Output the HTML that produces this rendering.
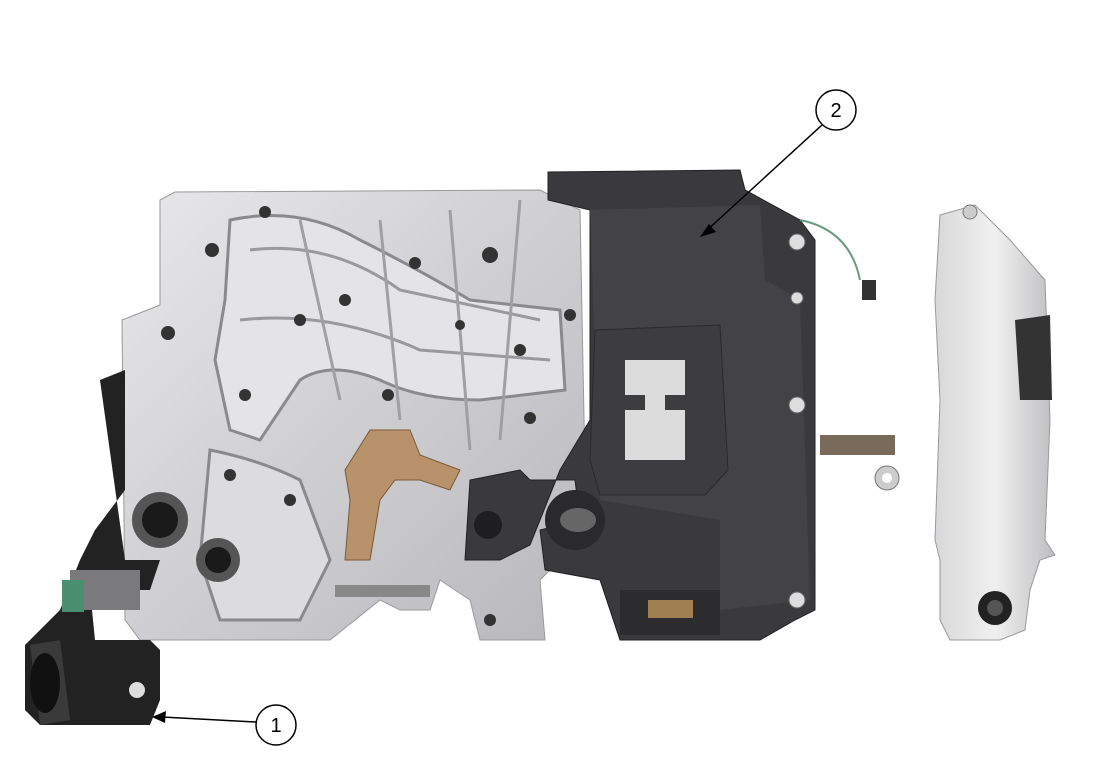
<!DOCTYPE html>
<html><head><meta charset="utf-8"><style>
html,body{margin:0;padding:0;background:#fff;}
svg{display:block;}
</style></head><body>
<svg width="1098" height="767" viewBox="0 0 1098 767" xmlns="http://www.w3.org/2000/svg">
<defs>
<linearGradient id="sil" x1="0" y1="0" x2="1" y2="1">
<stop offset="0" stop-color="#e8e8ea"/><stop offset="0.5" stop-color="#cfcfd2"/><stop offset="1" stop-color="#b8b8bc"/>
</linearGradient>
<linearGradient id="sil2" x1="0" y1="0" x2="1" y2="0">
<stop offset="0" stop-color="#d8d8da"/><stop offset="0.5" stop-color="#f0f0f0"/><stop offset="1" stop-color="#bdbdc0"/>
</linearGradient>
</defs>
<!-- silver valve body -->
<path d="M160 200 L175 192 L540 190 L580 210 L585 470 L560 560 L540 580 L545 640 L480 640 L470 600 L440 580 L430 610 L400 610 L380 600 L330 640 L140 640 L125 620 L122 320 L160 305 Z" fill="url(#sil)" stroke="#999" stroke-width="1"/>
<!-- channels -->
<path d="M230 220 Q300 205 360 240 Q420 270 470 300 L560 310 L565 390 L480 400 Q420 400 380 380 Q330 360 300 380 L260 440 L230 430 L215 360 L225 300 Z" fill="#e4e4e6" stroke="#8a8a8e" stroke-width="3"/>
<path d="M250 250 Q330 240 400 290 L540 320" fill="none" stroke="#9a9a9e" stroke-width="3"/>
<path d="M240 320 Q330 310 420 350 L550 360" fill="none" stroke="#9a9a9e" stroke-width="3"/>
<path d="M300 220 L340 400 M380 220 L400 420 M450 210 L470 450 M520 200 L500 440" stroke="#a0a0a4" stroke-width="3" fill="none"/>
<path d="M210 450 Q260 460 300 480 L330 560 L300 620 L220 620 L200 560 Z" fill="#dcdcde" stroke="#8a8a8e" stroke-width="3"/>
<!-- holes -->
<g fill="#333">
<circle cx="168" cy="333" r="7"/><circle cx="265" cy="212" r="6"/><circle cx="212" cy="250" r="7"/><circle cx="345" cy="300" r="6"/>
<circle cx="415" cy="263" r="6"/><circle cx="490" cy="255" r="8"/><circle cx="460" cy="325" r="5"/><circle cx="570" cy="315" r="6"/>
<circle cx="300" cy="320" r="6"/><circle cx="388" cy="395" r="6"/><circle cx="230" cy="475" r="6"/><circle cx="290" cy="500" r="6"/>
<circle cx="490" cy="620" r="6"/><circle cx="530" cy="418" r="6"/><circle cx="245" cy="395" r="6"/><circle cx="520" cy="350" r="6"/>
</g>
<circle cx="160" cy="520" r="28" fill="#555"/><circle cx="160" cy="520" r="18" fill="#1a1a1a"/>
<circle cx="218" cy="560" r="22" fill="#555"/><circle cx="218" cy="560" r="13" fill="#1a1a1a"/>
<!-- bronze bracket -->
<path d="M370 430 L410 430 L420 455 L460 470 L450 490 L420 480 L395 480 L380 500 L370 560 L345 560 L350 500 L345 470 Z" fill="#b8926a" stroke="#7a5a38"/>
<!-- dark plate -->
<path d="M548 172 L740 170 L745 190 L800 220 L815 240 L815 610 L795 620 L760 640 L620 640 L600 580 L545 570 L540 530 L580 520 L575 480 L530 480 L520 470 L470 480 L465 560 L500 560 L530 545 L560 470 L590 420 L590 210 L548 200 Z" fill="#3a3a3c" stroke="#222"/>
<path d="M590 210 L760 205 L765 280 L800 300 L810 600 L720 610 L720 520 L600 500 Z" fill="#434346"/>
<path d="M595 330 L720 325 L728 470 L705 495 L600 495 L590 460 Z" fill="#3d3d40" stroke="#2a2a2c"/>
<path d="M625 360 L685 360 L685 395 L665 395 L665 410 L685 410 L685 460 L625 460 L625 410 L645 410 L645 395 L625 395 Z" fill="#dcdcdc"/>
<circle cx="575" cy="520" r="30" fill="#2a2a2c"/><ellipse cx="578" cy="520" rx="18" ry="12" fill="#666"/>
<circle cx="488" cy="525" r="14" fill="#1e1e20"/>
<g fill="#ddd" stroke="#666"><circle cx="797" cy="242" r="8"/><circle cx="797" cy="298" r="6"/><circle cx="797" cy="405" r="8"/><circle cx="797" cy="600" r="8"/></g>
<path d="M620 590 L720 590 L720 635 L620 635 Z" fill="#2c2c2e"/>
<rect x="648" y="600" width="45" height="18" fill="#a08050"/>
<!-- connector right -->
<rect x="820" y="435" width="75" height="20" fill="#7a6a5a"/>
<circle cx="887" cy="478" r="12" fill="#ccc" stroke="#777"/><circle cx="887" cy="478" r="5" fill="#fff"/>
<path d="M800 220 Q850 230 860 280" fill="none" stroke="#6a9a80" stroke-width="2"/>
<rect x="862" y="280" width="14" height="20" fill="#333"/>
<!-- small rod -->
<rect x="335" y="585" width="95" height="12" fill="#888"/>
<!-- left black actuator -->
<path d="M100 380 L125 370 L125 490 L95 530 L80 560 L60 610 L40 630 L25 645 L25 710 L40 725 L150 725 L160 700 L160 650 L150 640 L95 640 L90 590 L150 590 L160 560 L125 560 Z" fill="#222"/>
<rect x="70" y="570" width="70" height="40" fill="#7a7a7c"/>
<rect x="62" y="580" width="22" height="32" fill="#4a9070"/>
<path d="M30 645 L60 640 L70 720 L40 725 Z" fill="#3a3a3a"/>
<ellipse cx="45" cy="683" rx="15" ry="30" fill="#111"/>
<circle cx="137" cy="690" r="8" fill="#ddd"/>
<!-- right side part -->
<path d="M940 215 L975 205 L1010 240 L1045 280 L1050 420 L1045 540 L1055 555 L1040 560 L1030 590 L1025 630 L1000 640 L950 640 L940 620 L940 560 L935 540 L940 400 L935 300 Z" fill="url(#sil2)" stroke="#999"/>
<path d="M1015 320 L1050 315 L1052 400 L1020 400 Z" fill="#333"/>
<circle cx="995" cy="608" r="17" fill="#222"/><circle cx="995" cy="608" r="8" fill="#555"/>
<circle cx="970" cy="212" r="7" fill="#ccc" stroke="#777"/>
<!-- callouts -->
<g stroke="#000" stroke-width="1.5" fill="#fff">
<line x1="256" y1="722" x2="162" y2="717"/>
<circle cx="276" cy="725" r="20"/>
<line x1="822" y1="125" x2="705" y2="232"/>
<circle cx="836" cy="110" r="20"/>
</g>
<polygon points="152,717 166,711 165,723" fill="#000"/>
<polygon points="700,237 709,224 716,232" fill="#000"/>
<text x="276" y="732" font-family="Liberation Sans, sans-serif" font-size="20" text-anchor="middle">1</text>
<text x="836" y="117" font-family="Liberation Sans, sans-serif" font-size="20" text-anchor="middle">2</text>
</svg>
</body></html>
